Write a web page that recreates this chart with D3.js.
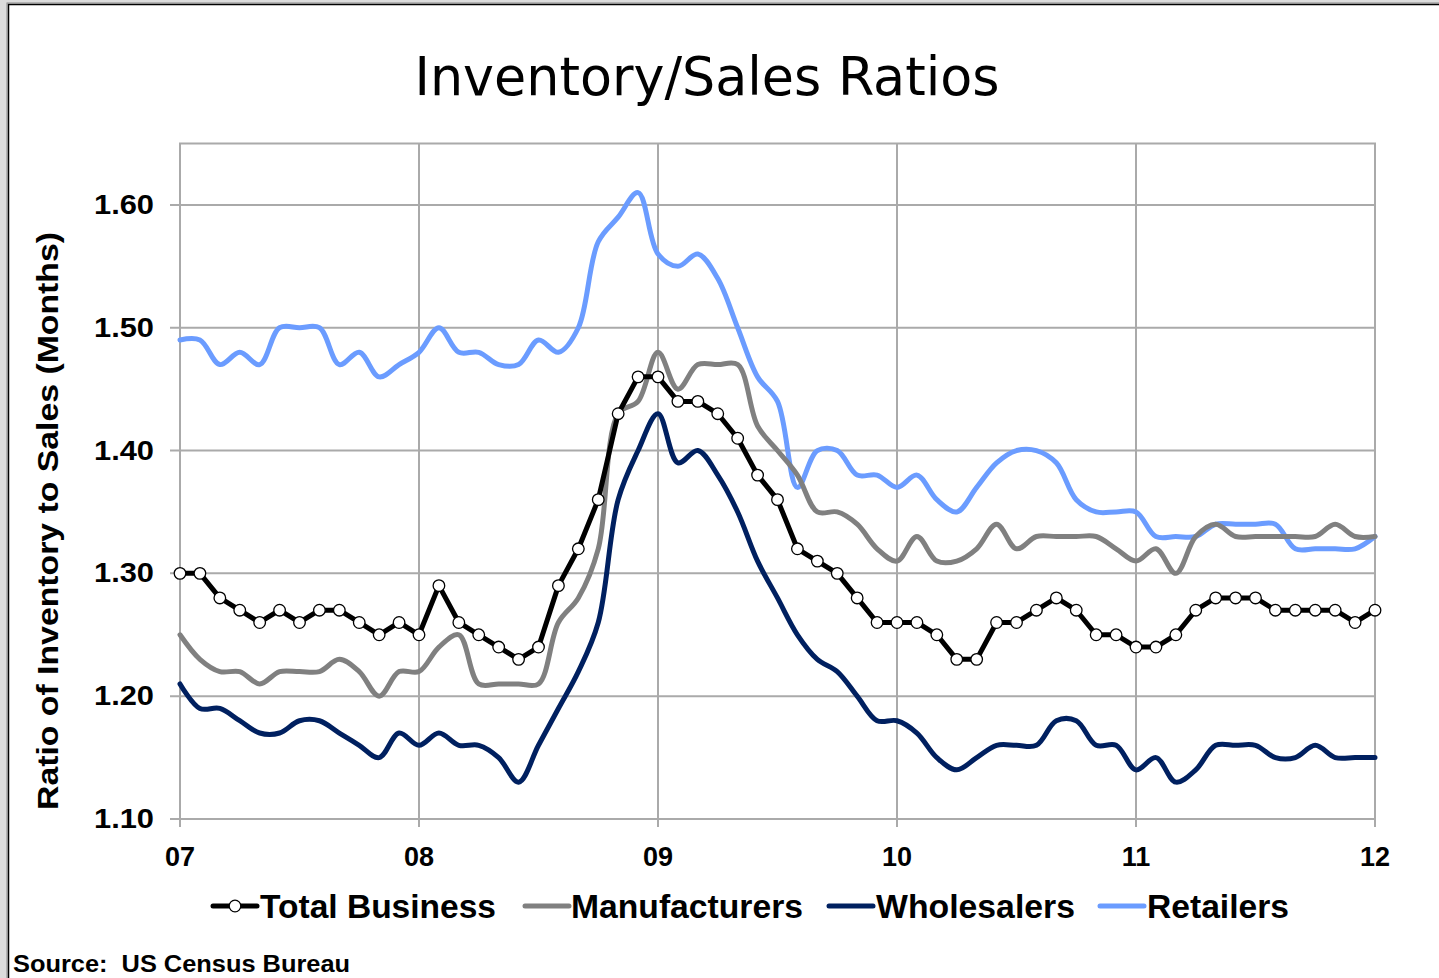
<!DOCTYPE html>
<html>
<head>
<meta charset="utf-8">
<script src="https://cdn.jsdelivr.net/npm/d3@7"></script>
<style>
  html, body { margin: 0; padding: 0; background: #dcdcdc; }
  svg { display: block; }
  text { font-family: "Liberation Sans", Arial, sans-serif; }
</style>
</head>
<body>
<div id="chart"></div>
<script>
// monthly data, Jan 2007 .. Jan 2012
var yearLabels = ['07', '08', '09', '10', '11', '12']
var yTicks = [1.10, 1.20, 1.30, 1.40, 1.50, 1.60]

var totalBusiness = [
  1.30, 1.30, 1.28, 1.27, 1.26, 1.27, 1.26, 1.27, 1.27, 1.26, 1.25, 1.26,
  1.25, 1.29, 1.26, 1.25, 1.24, 1.23, 1.24, 1.29, 1.32, 1.36, 1.43, 1.46,
  1.46, 1.44, 1.44, 1.43, 1.41, 1.38, 1.36, 1.32, 1.31, 1.30, 1.28, 1.26,
  1.26, 1.26, 1.25, 1.23, 1.23, 1.26, 1.26, 1.27, 1.28, 1.27, 1.25, 1.25,
  1.24, 1.24, 1.25, 1.27, 1.28, 1.28, 1.28, 1.27, 1.27, 1.27, 1.27, 1.26,
  1.27]
var manufacturers = [
  1.25, 1.23, 1.22, 1.22, 1.21, 1.22, 1.22, 1.22, 1.23, 1.22, 1.20, 1.22,
  1.22, 1.24, 1.25, 1.21, 1.21, 1.21, 1.21, 1.26, 1.28, 1.32, 1.43, 1.44,
  1.48, 1.45, 1.47, 1.47, 1.47, 1.42, 1.40, 1.38, 1.35, 1.35, 1.34, 1.32,
  1.31, 1.33, 1.31, 1.31, 1.32, 1.34, 1.32, 1.33, 1.33, 1.33, 1.33, 1.32,
  1.31, 1.32, 1.30, 1.33, 1.34, 1.33, 1.33, 1.33, 1.33, 1.33, 1.34, 1.33,
  1.33]
var wholesalers = [
  1.21, 1.19, 1.19, 1.18, 1.17, 1.17, 1.18, 1.18, 1.17, 1.16, 1.15, 1.17,
  1.16, 1.17, 1.16, 1.16, 1.15, 1.13, 1.16, 1.19, 1.22, 1.26, 1.36, 1.40,
  1.43, 1.39, 1.40, 1.38, 1.35, 1.31, 1.28, 1.25, 1.23, 1.22, 1.20, 1.18,
  1.18, 1.17, 1.15, 1.14, 1.15, 1.16, 1.16, 1.16, 1.18, 1.18, 1.16, 1.16,
  1.14, 1.15, 1.13, 1.14, 1.16, 1.16, 1.16, 1.15, 1.15, 1.16, 1.15, 1.15,
  1.15]
var retailers = [
  1.49, 1.49, 1.47, 1.48, 1.47, 1.50, 1.50, 1.50, 1.47, 1.48, 1.46, 1.47,
  1.48, 1.50, 1.48, 1.48, 1.47, 1.47, 1.49, 1.48, 1.50, 1.57, 1.59, 1.61,
  1.56, 1.55, 1.56, 1.54, 1.50, 1.46, 1.44, 1.37, 1.40, 1.40, 1.38, 1.38,
  1.37, 1.38, 1.36, 1.35, 1.37, 1.39, 1.40, 1.40, 1.39, 1.36, 1.35, 1.35,
  1.35, 1.33, 1.33, 1.33, 1.34, 1.34, 1.34, 1.34, 1.32, 1.32, 1.32, 1.32,
  1.33]

var W = 1439, H = 978
var svg = d3.select('#chart').append('svg')
  .attr('width', W).attr('height', H)

// white chart sheet with the double border
svg.append('rect').attr('x', 7).attr('y', 3)
  .attr('width', W).attr('height', H)
  .style('fill', '#fff').style('stroke', '#888').style('stroke-width', 1)
svg.append('rect').attr('x', 8.5).attr('y', 4.5)
  .attr('width', W).attr('height', H)
  .style('fill', 'none').style('stroke', '#000').style('stroke-width', 1.5)

var x = d3.scaleLinear().domain([0, 60]).range([180, 1375])
var y = d3.scaleLinear().domain([1.10, 1.65]).range([819, 143.5])

// title
svg.append('text')
  .attr('x', 707).attr('y', 95)
  .attr('text-anchor', 'middle')
  .attr('textLength', 585).attr('lengthAdjust', 'spacingAndGlyphs')
  .style('font-family', '"DejaVu Sans", Tahoma, sans-serif')
  .style('font-size', '53px')
  .text('Inventory/Sales Ratios')

// plot border and grid
var grid = svg.append('g').attr('class', 'grid')
grid.append('rect')
  .attr('x', x(0)).attr('y', y(1.65))
  .attr('width', x(60) - x(0)).attr('height', y(1.10) - y(1.65))
  .style('fill', 'none').style('stroke', '#aaa').style('stroke-width', 2)

grid.selectAll('line.h').data(yTicks).enter().append('line')
  .attr('class', 'h')
  .attr('x1', x(0) - 10).attr('x2', x(60))
  .attr('y1', function(d){ return y(d) }).attr('y2', function(d){ return y(d) })
  .style('stroke', '#aaa').style('stroke-width', 2)

grid.selectAll('line.v').data(yearLabels).enter().append('line')
  .attr('class', 'v')
  .attr('x1', function(d, i){ return x(i * 12) }).attr('x2', function(d, i){ return x(i * 12) })
  .attr('y1', y(1.65)).attr('y2', y(1.10) + 8)
  .style('stroke', '#aaa').style('stroke-width', 2)

// axis labels
svg.append('g').selectAll('text').data(yTicks).enter().append('text')
  .attr('x', 154).attr('y', function(d){ return y(d) + 9 })
  .attr('text-anchor', 'end')
  .attr('textLength', 60).attr('lengthAdjust', 'spacingAndGlyphs')
  .style('font-size', '27px').style('font-weight', 'bold')
  .text(function(d){ return d3.format('.2f')(d) })

svg.append('g').selectAll('text').data(yearLabels).enter().append('text')
  .attr('x', function(d, i){ return x(i * 12) }).attr('y', 866)
  .attr('text-anchor', 'middle')
  .style('font-size', '27px').style('font-weight', 'bold')
  .text(function(d){ return d })

svg.append('text')
  .attr('transform', 'translate(58,521) rotate(-90)')
  .attr('text-anchor', 'middle')
  .attr('textLength', 578).attr('lengthAdjust', 'spacingAndGlyphs')
  .style('font-size', '29px').style('font-weight', 'bold')
  .text('Ratio of Inventory to Sales (Months)')

// series
var series = [
  {name: 'Total Business', values: totalBusiness, color: '#000', smooth: false, marker: true},
  {name: 'Manufacturers', values: manufacturers, color: '#808080', smooth: true},
  {name: 'Wholesalers', values: wholesalers, color: '#002060', smooth: true},
  {name: 'Retailers', values: retailers, color: '#6b9cff', smooth: true}
]

var plot = svg.append('g').attr('class', 'plot')
series.slice().reverse().forEach(function(s){
  var line = d3.line()
    .x(function(d, i){ return x(i) })
    .y(function(d){ return y(d) })
    .curve(s.smooth ? d3.curveCatmullRom.alpha(0.5) : d3.curveLinear)
  plot.append('path')
    .datum(s.values)
    .attr('d', line)
    .style('fill', 'none')
    .style('stroke', s.color)
    .style('stroke-width', 5)
    .style('stroke-linejoin', 'round')
    .style('stroke-linecap', 'round')
  if(s.marker){
    plot.append('g').selectAll('circle').data(s.values).enter().append('circle')
      .attr('cx', function(d, i){ return x(i) })
      .attr('cy', function(d){ return y(d) })
      .attr('r', 5.8)
      .style('fill', '#fff').style('stroke', '#000').style('stroke-width', 1.3)
  }
})

// legend
var legendItems = [
  {lx: 213, tx: 260, tw: 236},
  {lx: 525, tx: 571, tw: 232},
  {lx: 829, tx: 876, tw: 199},
  {lx: 1100, tx: 1147, tw: 142}
]
var legend = svg.append('g').attr('class', 'legend')
series.forEach(function(s, i){
  var it = legendItems[i]
  legend.append('line')
    .attr('x1', it.lx).attr('x2', it.lx + 44)
    .attr('y1', 906).attr('y2', 906)
    .style('stroke', s.color).style('stroke-width', 5)
    .style('stroke-linecap', 'round')
  if(s.marker){
    legend.append('circle')
      .attr('cx', it.lx + 22).attr('cy', 906).attr('r', 5.8)
      .style('fill', '#fff').style('stroke', '#000').style('stroke-width', 1.3)
  }
  legend.append('text')
    .attr('x', it.tx).attr('y', 918)
    .attr('textLength', it.tw).attr('lengthAdjust', 'spacingAndGlyphs')
    .style('font-size', '34px').style('font-weight', 'bold')
    .text(s.name)
})

// source note
svg.append('text')
  .attr('x', 13).attr('y', 972)
  .attr('textLength', 337).attr('lengthAdjust', 'spacingAndGlyphs')
  .style('font-size', '23px').style('font-weight', 'bold')
  .style('white-space', 'pre')
  .text('Source:  US Census Bureau')
</script>
</body>
</html>
